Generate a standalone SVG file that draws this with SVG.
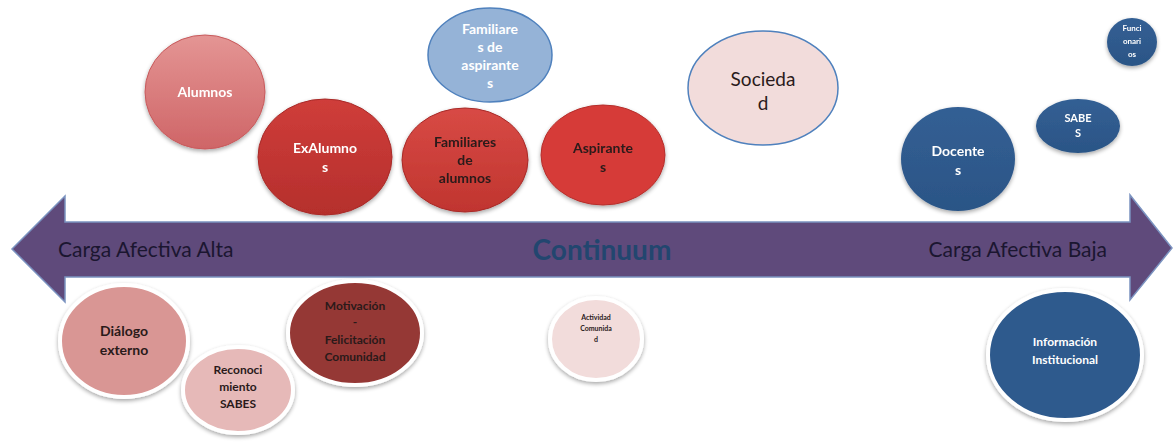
<svg xmlns="http://www.w3.org/2000/svg" width="1174" height="443" viewBox="0 0 1174 443">
  <defs>
    <filter id="shadow" x="-20%" y="-20%" width="140%" height="150%">
      <feGaussianBlur in="SourceAlpha" stdDeviation="2"/>
      <feOffset dx="0" dy="2" result="b"/>
      <feComponentTransfer><feFuncA type="linear" slope="0.35"/></feComponentTransfer>
      <feMerge><feMergeNode/><feMergeNode in="SourceGraphic"/></feMerge>
    </filter>
    <linearGradient id="gPink" x1="0" y1="0" x2="0" y2="1">
      <stop offset="0" stop-color="#e49594"/><stop offset="1" stop-color="#cf6567"/>
    </linearGradient>
    <linearGradient id="gRed" x1="0" y1="0" x2="0" y2="1">
      <stop offset="0" stop-color="#cf3d3a"/><stop offset="1" stop-color="#b52f2c"/>
    </linearGradient>
    <linearGradient id="gRed2" x1="0" y1="0" x2="0" y2="1">
      <stop offset="0" stop-color="#d84a45"/><stop offset="1" stop-color="#c0352f"/>
    </linearGradient>
    <linearGradient id="gBlue" x1="0" y1="0" x2="0" y2="1">
      <stop offset="0" stop-color="#335f94"/><stop offset="1" stop-color="#2b5586"/>
    </linearGradient>
    <style>
      .lbl { font-family: Lato, "Liberation Sans", sans-serif; font-weight: bold; text-anchor: middle; }
      .w { fill: #ffffff; }
      .d { fill: #2a1a1a; }
      .ring { stroke: #ffffff; stroke-width: 4; filter: url(#shadow); }
      .axis { font-family: Lato, "Liberation Sans", sans-serif; }
    </style>
  </defs>

  <rect width="1174" height="443" fill="#ffffff"/>

  <!-- connectors: the double-headed continuum arrow -->
  <g id="connectors">
    <path d="M12,249 L65,196 L65,222 L1130,222 L1130,195 L1172,248 L1130,300 L1130,277 L65,277 L65,302 Z"
          fill="#5f4a7b" stroke="#7b93c0" stroke-width="1.5" stroke-linejoin="miter"/>
    <text class="axis" x="58" y="257" font-size="21" fill="#1b1630">Carga Afectiva Alta</text>
    <text class="axis" x="602" y="260" font-size="28" font-weight="bold" fill="#22466f" text-anchor="middle">Continuum</text>
    <text class="axis" x="1107" y="257" font-size="21" fill="#1b1630" text-anchor="end">Carga Afectiva Baja</text>
  </g>

  <!-- upper row: high-affect groups -->
  <g id="alumnos" filter="url(#shadow)">
    <ellipse cx="205" cy="92" rx="60" ry="57" fill="url(#gPink)" stroke="#c75a5c" stroke-width="1"/>
    <text class="lbl w" x="205" y="97" font-size="14">Alumnos</text>
  </g>
  <g id="exalumnos" filter="url(#shadow)">
    <ellipse cx="325" cy="157" rx="67" ry="58" fill="url(#gRed)" stroke="#a82a28" stroke-width="1"/>
    <text class="lbl w" x="325" y="153" font-size="14">ExAlumno</text>
    <text class="lbl w" x="325" y="172" font-size="14">s</text>
  </g>
  <g id="familiares-alumnos" filter="url(#shadow)">
    <ellipse cx="465" cy="160" rx="63" ry="52" fill="url(#gRed2)" stroke="#a82a28" stroke-width="1"/>
    <text class="lbl d" x="465" y="147" font-size="14">Familiares</text>
    <text class="lbl d" x="465" y="165" font-size="14">de</text>
    <text class="lbl d" x="465" y="183" font-size="14">alumnos</text>
  </g>
  <g id="familiares-aspirantes">
    <ellipse cx="490" cy="55" rx="62" ry="47" fill="#95b3d7" stroke="#4f81bd" stroke-width="1.5"/>
    <text class="lbl w" x="490" y="34" font-size="14">Familiare</text>
    <text class="lbl w" x="490" y="52" font-size="14">s de</text>
    <text class="lbl w" x="490" y="70" font-size="14">aspirante</text>
    <text class="lbl w" x="490" y="88" font-size="14">s</text>
  </g>
  <g id="aspirantes" filter="url(#shadow)">
    <ellipse cx="603" cy="155" rx="62" ry="50" fill="#d63b38" stroke="#b52f2c" stroke-width="1"/>
    <text class="lbl d" x="603" y="153" font-size="14">Aspirante</text>
    <text class="lbl d" x="603" y="172" font-size="14">s</text>
  </g>
  <g id="sociedad">
    <ellipse cx="763" cy="88" rx="75" ry="57" fill="#f2dcdb" stroke="#4f81bd" stroke-width="1.5"/>
    <text class="axis" x="763" y="86" font-size="19" fill="#2a1a1a" text-anchor="middle">Socieda</text>
    <text class="axis" x="763" y="110" font-size="19" fill="#2a1a1a" text-anchor="middle">d</text>
  </g>

  <!-- upper row: low-affect groups -->
  <g id="docentes" filter="url(#shadow)">
    <ellipse cx="958" cy="159" rx="57" ry="52" fill="url(#gBlue)"/>
    <text class="lbl w" x="958" y="156" font-size="14">Docente</text>
    <text class="lbl w" x="958" y="175" font-size="14">s</text>
  </g>
  <g id="sabes" filter="url(#shadow)">
    <ellipse cx="1078" cy="126" rx="42" ry="27" fill="url(#gBlue)"/>
    <text class="lbl w" x="1078" y="122" font-size="11">SABE</text>
    <text class="lbl w" x="1078" y="137" font-size="11">S</text>
  </g>
  <g id="funcionarios" filter="url(#shadow)">
    <ellipse cx="1132" cy="42" rx="25" ry="24" fill="url(#gBlue)"/>
    <text class="lbl w" x="1132" y="31" font-size="8">Funci</text>
    <text class="lbl w" x="1132" y="44" font-size="8">onari</text>
    <text class="lbl w" x="1132" y="57" font-size="8">os</text>
  </g>

  <!-- lower row: communication actions -->
  <g id="dialogo-externo">
    <ellipse class="ring" cx="124" cy="341" rx="64" ry="56" fill="#d99694"/>
    <text class="lbl d" x="124" y="336" font-size="14">Diálogo</text>
    <text class="lbl d" x="124" y="355" font-size="14">externo</text>
  </g>
  <g id="reconocimiento-sabes">
    <ellipse class="ring" cx="238" cy="390" rx="55" ry="43" fill="#e6b9b8"/>
    <text class="lbl d" x="238" y="374" font-size="12">Reconoci</text>
    <text class="lbl d" x="238" y="391" font-size="12">miento</text>
    <text class="lbl d" x="238" y="408" font-size="12">SABES</text>
  </g>
  <g id="motivacion">
    <ellipse class="ring" cx="355" cy="333" rx="67" ry="52" fill="#953735"/>
    <text class="lbl d" x="355" y="310" font-size="12">Motivación</text>
    <text class="lbl d" x="355" y="326" font-size="12">-</text>
    <text class="lbl d" x="355" y="344" font-size="12">Felicitación</text>
    <text class="lbl d" x="355" y="361" font-size="12">Comunidad</text>
  </g>
  <g id="actividad-comunidad">
    <ellipse class="ring" cx="596" cy="339" rx="46" ry="41" fill="#f2dcdb"/>
    <text class="lbl d" x="596" y="320" font-size="7">Actividad</text>
    <text class="lbl d" x="596" y="331" font-size="7">Comunida</text>
    <text class="lbl d" x="596" y="342" font-size="7">d</text>
  </g>
  <g id="informacion-institucional">
    <ellipse class="ring" cx="1065" cy="355" rx="77" ry="65" fill="#2f5a8d"/>
    <text class="lbl w" x="1065" y="346" font-size="12">Información</text>
    <text class="lbl w" x="1065" y="364" font-size="12">Institucional</text>
  </g>
</svg>
